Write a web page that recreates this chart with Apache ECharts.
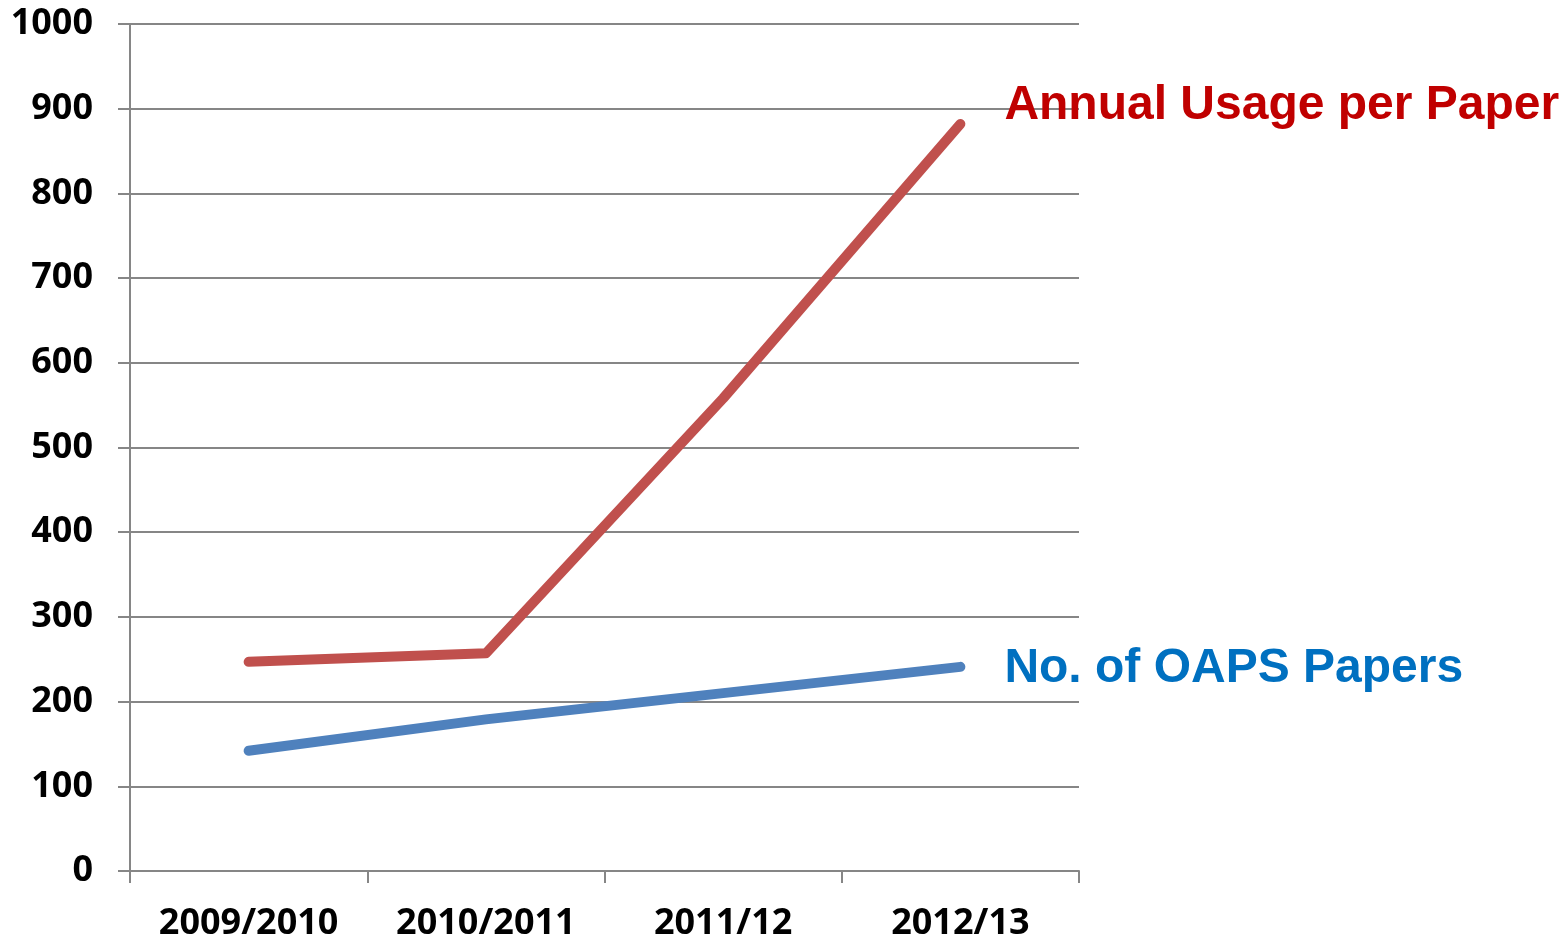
<!DOCTYPE html>
<html>
<head>
<meta charset="utf-8">
<script src="https://cdn.jsdelivr.net/npm/echarts@6/dist/echarts.min.js"></script>
<style>
  html, body { margin: 0; padding: 0; background: #fff; }
  #chart { width: 1565px; height: 942px; }
</style>
</head>
<body>
<div id="chart"></div>
<script>
const years = ["2009/2010", "2010/2011", "2011/12", "2012/13"];
const usagePerPaper = [247, 257, 558, 882];
const oapsPapers = [142, 179, 210, 241];

const chart = echarts.init(document.getElementById("chart"), null, { renderer: "canvas" });

const axisFont = {
  fontFamily: "Open Sans",
  fontWeight: "bold",
  fontSize: 36,
  color: "#000"
};
const gridColor = "#868686";

chart.setOption({
  animation: false,
  backgroundColor: "#fff",
  grid: { left: 130, right: 486, top: 24, bottom: 71 },
  xAxis: {
    type: "category",
    data: years,
    boundaryGap: true,
    axisLine: { lineStyle: { color: gridColor, width: 2 } },
    axisTick: { show: true, interval: 0, length: 12, lineStyle: { color: gridColor, width: 2 } },
    axisLabel: Object.assign({ margin: 35 }, axisFont),
    splitLine: { show: false }
  },
  yAxis: {
    type: "value",
    min: 0,
    max: 1000,
    interval: 100,
    axisLine: { show: true, lineStyle: { color: gridColor, width: 2 } },
    axisTick: { show: true, length: 12, lineStyle: { color: gridColor, width: 2 } },
    axisLabel: Object.assign({ margin: 37, formatter: (v) => String(v) }, axisFont),
    splitLine: { lineStyle: { color: gridColor, width: 2 } }
  },
  series: [
    {
      name: "Annual Usage per Paper",
      type: "line",
      data: usagePerPaper,
      showSymbol: false,
      lineStyle: { color: "#C0504D", width: 10, cap: "round", join: "round" },
      itemStyle: { color: "#C0504D" },
      endLabel: {
        show: true,
        formatter: "{a}",
        offset: [36, -18],
        color: "#C00000",
        fontFamily: "Liberation Sans",
        fontWeight: "bold",
        fontSize: 48
      }
    },
    {
      name: "No. of OAPS Papers",
      type: "line",
      data: oapsPapers,
      showSymbol: false,
      lineStyle: { color: "#4F81BD", width: 10, cap: "round", join: "round" },
      itemStyle: { color: "#4F81BD" },
      endLabel: {
        show: true,
        formatter: "{a}",
        offset: [36, 2],
        color: "#0070C0",
        fontFamily: "Liberation Sans",
        fontWeight: "bold",
        fontSize: 48
      }
    }
  ]
});
</script>
</body>
</html>
